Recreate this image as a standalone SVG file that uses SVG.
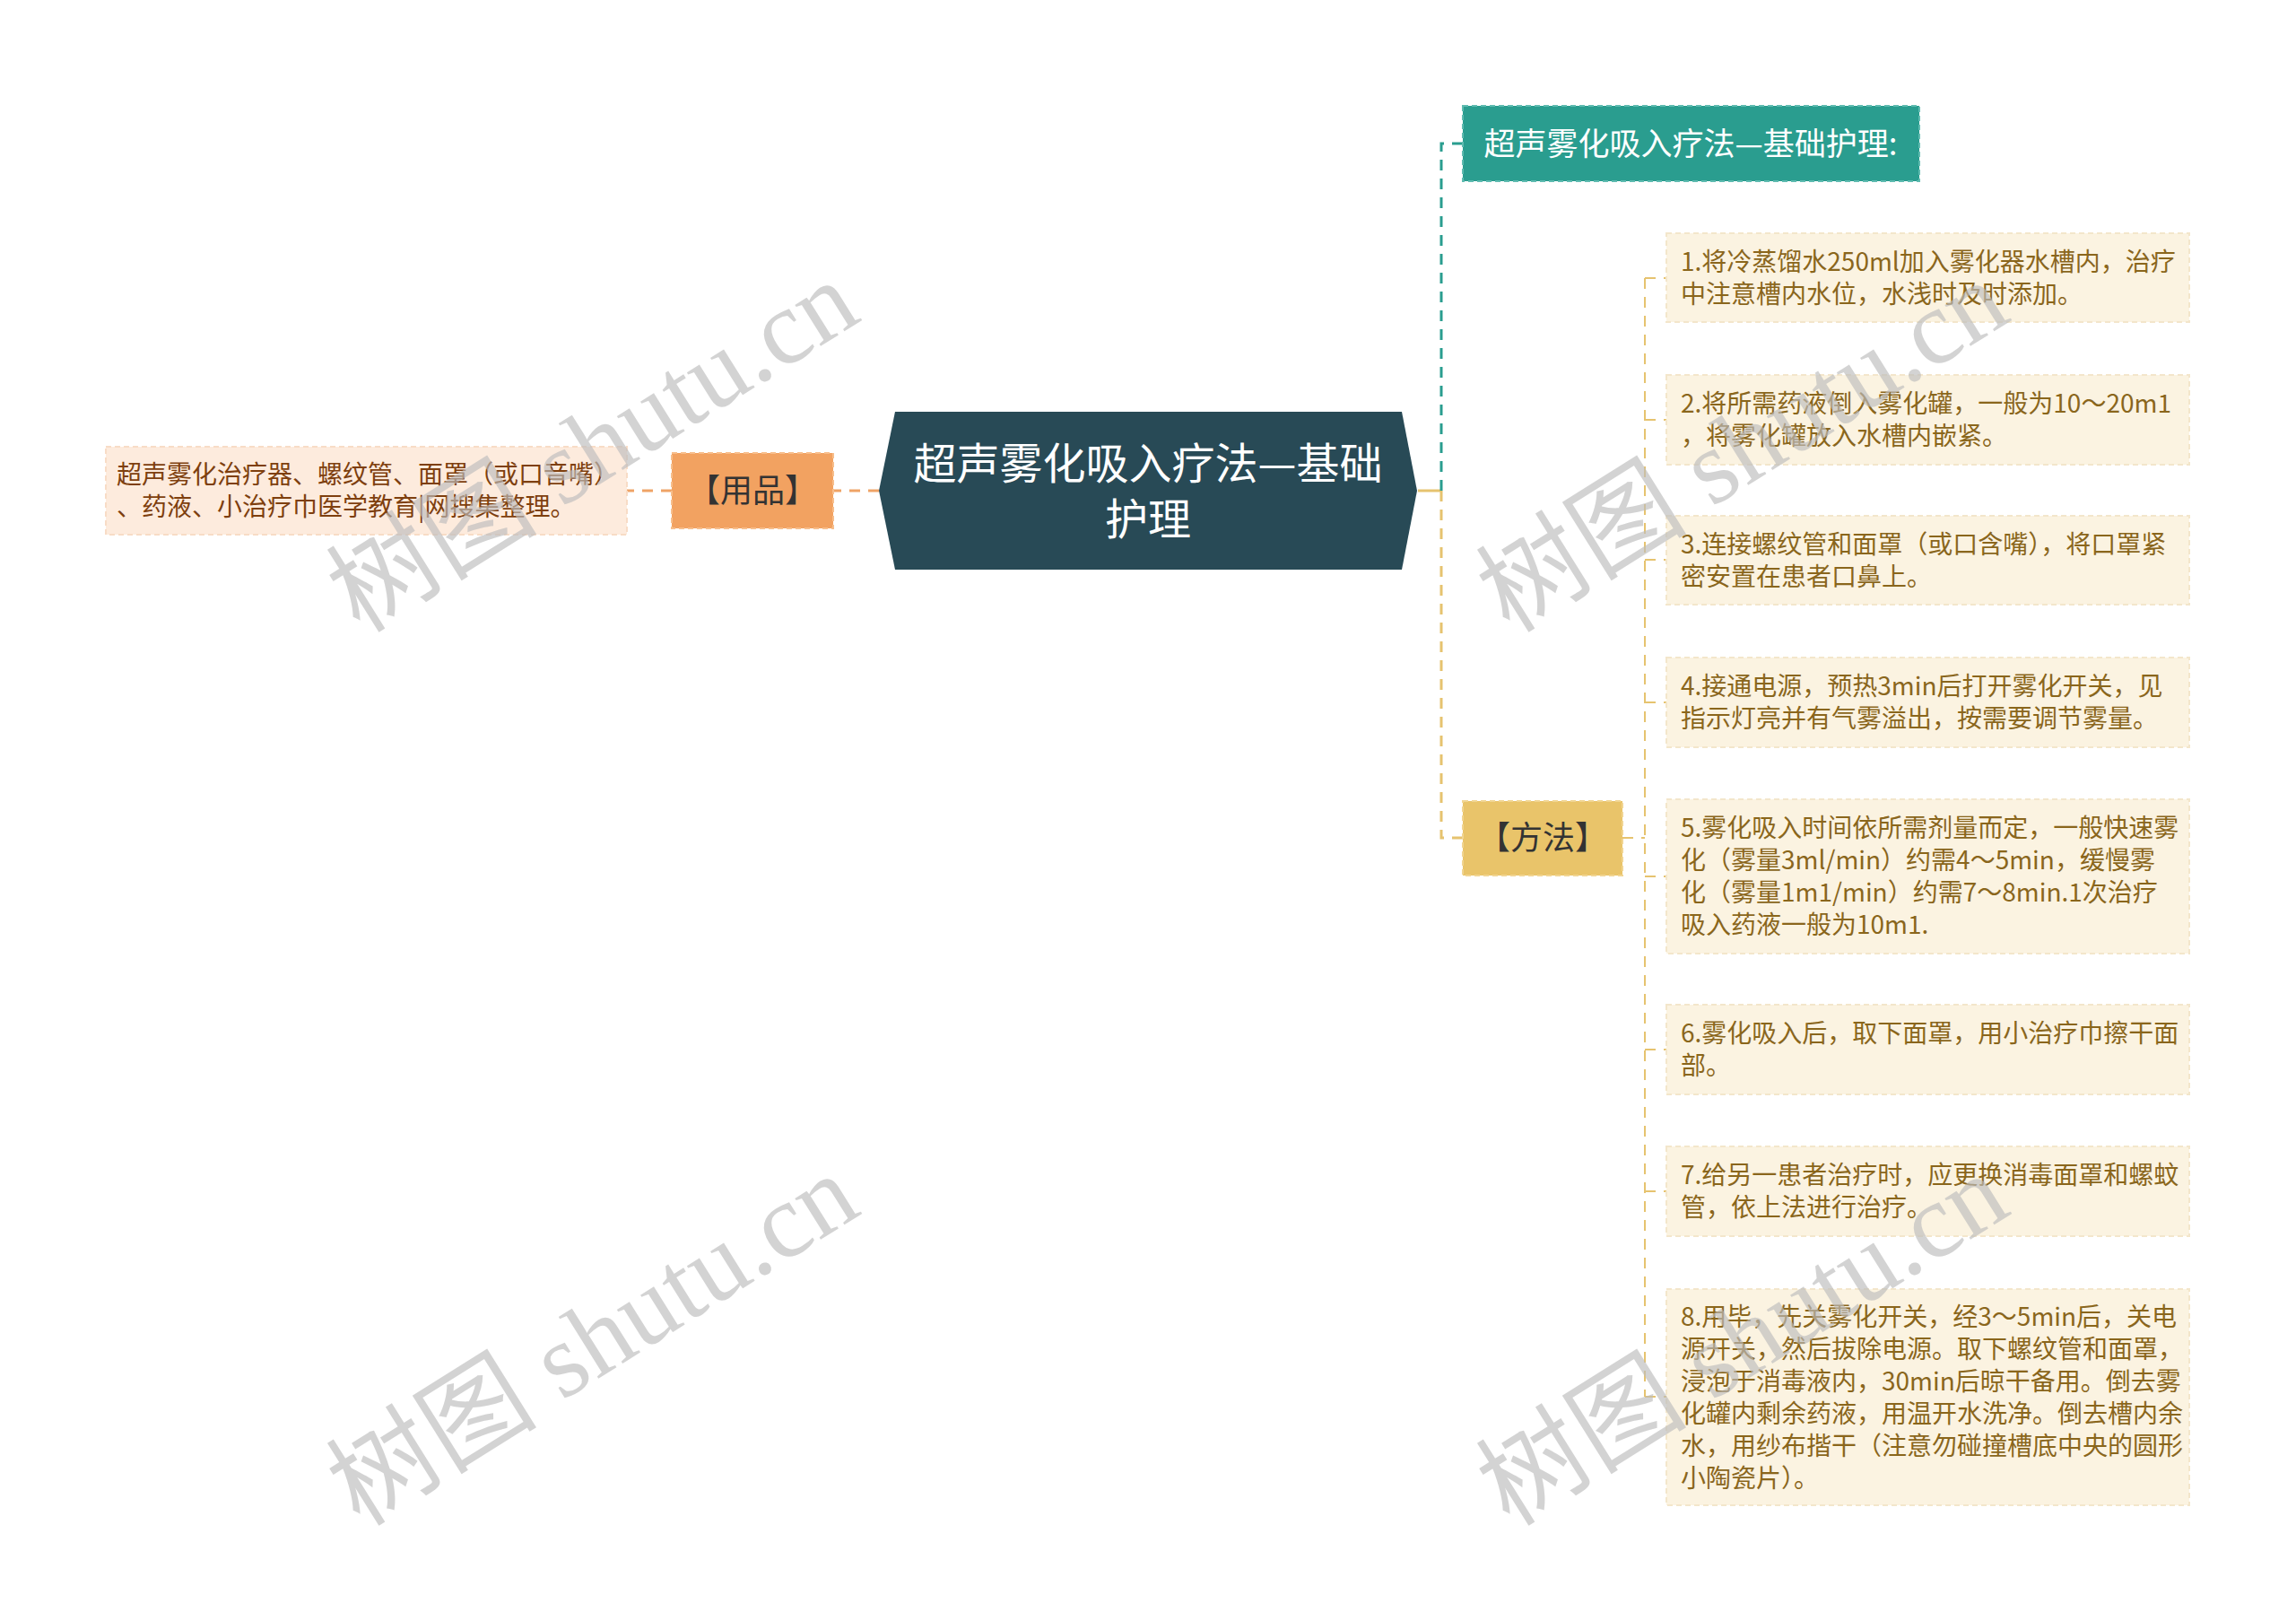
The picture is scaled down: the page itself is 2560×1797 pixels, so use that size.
<svg xmlns="http://www.w3.org/2000/svg" width="2560" height="1797" viewBox="0 0 2560 1797">
<defs>
<style>
.t{font-family:"Noto Sans CJK SC","Noto Sans",sans-serif;}
.leaf rect{fill:#FBF3E1;stroke:#F3E6CB;stroke-width:2;stroke-dasharray:6 4;}
.leaf text{font-size:28px;fill:#8A661C;}
.lleaf rect{fill:#FDEBDD;stroke:#F8DCC6;stroke-width:2;stroke-dasharray:6 4;}
.lleaf text{font-size:28px;fill:#7E3F0E;}
.c{fill:none;stroke-width:3;}
.dash{stroke-dasharray:12 9;}
.or{stroke:#EFA366;}
.gd{stroke:#E6C36F;}
.tl{stroke:#2A9D8F;}
.wm{font-family:"Liberation Serif","Noto Sans CJK SC",serif;font-size:118px;fill:#BDBDBD;opacity:0.65;}
</style>
</defs>
<rect width="2560" height="1797" fill="#FFFFFF"/>

<g id="connectors">
<path class="c dash or" d="M980,547 H929"/>
<path class="c dash or" d="M749,547 H699"/>
<path class="c gd" d="M1581,547 H1607"/>
<path class="c dash tl" d="M1607,547 V160 H1631"/>
<path class="c dash gd" d="M1607,547 V934 H1631"/>
<path class="c dash gd" style="stroke-width:2" d="M1809,934 H1834 M1834,310 V1557 M1834,310 H1858 M1834,468 H1858 M1834,624 H1858 M1834,783 H1858 M1834,977 H1858 M1834,1170 H1858 M1834,1328 H1858 M1834,1557 H1858"/>
</g>

<g id="root">
<polygon points="998,459 1563,459 1580,547 1563,635 998,635 980,547" fill="#284A56"/>
<text class="t" font-size="48" fill="#FFFFFF" text-anchor="middle"><tspan x="1280" y="534">超声雾化吸入疗法—基础</tspan><tspan x="1280" y="596">护理</tspan></text>
</g>

<g id="title-node">
<rect x="1631" y="118" width="509" height="84" fill="#2A9D8F" stroke="#5FBBB0" stroke-width="2" stroke-dasharray="6 4"/>
<text class="t" x="1885" y="173" font-size="35" fill="#FFFFFF" text-anchor="middle">超声雾化吸入疗法—基础护理:</text>
</g>

<g id="yongpin">
<rect x="749" y="505" width="180" height="84" fill="#F2A261" stroke="#F7BE8C" stroke-width="2" stroke-dasharray="6 4"/>
<text class="t" x="839" y="560" font-size="36" fill="#333333" text-anchor="middle">【用品】</text>
</g>

<g id="yongpin-leaf" class="lleaf">
<rect x="118" y="498" width="581" height="98"/>
<text class="t"><tspan x="130" y="539">超声雾化治疗器、螺纹管、面罩（或口音嘴）</tspan><tspan x="130" y="575">、药液、小治疗巾医学教育|网搜集整理。</tspan></text>
</g>

<g id="fangfa">
<rect x="1631" y="893" width="178" height="83" fill="#E9C46A" stroke="#F1D592" stroke-width="2" stroke-dasharray="6 4"/>
<text class="t" x="1720" y="947" font-size="36" fill="#333333" text-anchor="middle">【方法】</text>
</g>

<g id="step1" class="leaf">
<rect x="1858" y="260" width="583" height="99"/>
<text class="t"><tspan x="1874" y="302">1.将冷蒸馏水250ml加入雾化器水槽内，治疗</tspan><tspan x="1874" y="338">中注意槽内水位，水浅时及时添加。</tspan></text>
</g>
<g id="step2" class="leaf">
<rect x="1858" y="418" width="583" height="100"/>
<text class="t"><tspan x="1874" y="460">2.将所需药液倒入雾化罐，一般为10～20m1</tspan><tspan x="1874" y="496">，将雾化罐放入水槽内嵌紧。</tspan></text>
</g>
<g id="step3" class="leaf">
<rect x="1858" y="575" width="583" height="99"/>
<text class="t"><tspan x="1874" y="617">3.连接螺纹管和面罩（或口含嘴），将口罩紧</tspan><tspan x="1874" y="653">密安置在患者口鼻上。</tspan></text>
</g>
<g id="step4" class="leaf">
<rect x="1858" y="733" width="583" height="100"/>
<text class="t"><tspan x="1874" y="775">4.接通电源，预热3min后打开雾化开关，见</tspan><tspan x="1874" y="811">指示灯亮并有气雾溢出，按需要调节雾量。</tspan></text>
</g>
<g id="step5" class="leaf">
<rect x="1858" y="891" width="583" height="172"/>
<text class="t"><tspan x="1874" y="933">5.雾化吸入时间依所需剂量而定，一般快速雾</tspan><tspan x="1874" y="969">化（雾量3ml/min）约需4～5min，缓慢雾</tspan><tspan x="1874" y="1005">化（雾量1m1/min）约需7～8min.1次治疗</tspan><tspan x="1874" y="1041">吸入药液一般为10m1.</tspan></text>
</g>
<g id="step6" class="leaf">
<rect x="1858" y="1120" width="583" height="100"/>
<text class="t"><tspan x="1874" y="1162">6.雾化吸入后，取下面罩，用小治疗巾擦干面</tspan><tspan x="1874" y="1198">部。</tspan></text>
</g>
<g id="step7" class="leaf">
<rect x="1858" y="1278" width="583" height="100"/>
<text class="t"><tspan x="1874" y="1320">7.给另一患者治疗时，应更换消毒面罩和螺蚊</tspan><tspan x="1874" y="1356">管，依上法进行治疗。</tspan></text>
</g>
<g id="step8" class="leaf">
<rect x="1858" y="1437" width="583" height="241"/>
<text class="t"><tspan x="1874" y="1478">8.用毕，先关雾化开关，经3～5min后，关电</tspan><tspan x="1874" y="1514">源开关，然后拔除电源。取下螺纹管和面罩，</tspan><tspan x="1874" y="1550">浸泡于消毒液内，30min后晾干备用。倒去雾</tspan><tspan x="1874" y="1586">化罐内剩余药液，用温开水洗净。倒去槽内余</tspan><tspan x="1874" y="1622">水，用纱布揩干（注意勿碰撞槽底中央的圆形</tspan><tspan x="1874" y="1658">小陶瓷片）。</tspan></text>
</g>

<g id="watermarks">
<text class="wm" transform="translate(661,498) rotate(-32)" text-anchor="middle" dominant-baseline="central">树图 shutu.cn</text>
<text class="wm" transform="translate(661,1494) rotate(-32)" text-anchor="middle" dominant-baseline="central">树图 shutu.cn</text>
<text class="wm" transform="translate(1943,498) rotate(-32)" text-anchor="middle" dominant-baseline="central">树图 shutu.cn</text>
<text class="wm" transform="translate(1943,1494) rotate(-32)" text-anchor="middle" dominant-baseline="central">树图 shutu.cn</text>
</g>
</svg>
